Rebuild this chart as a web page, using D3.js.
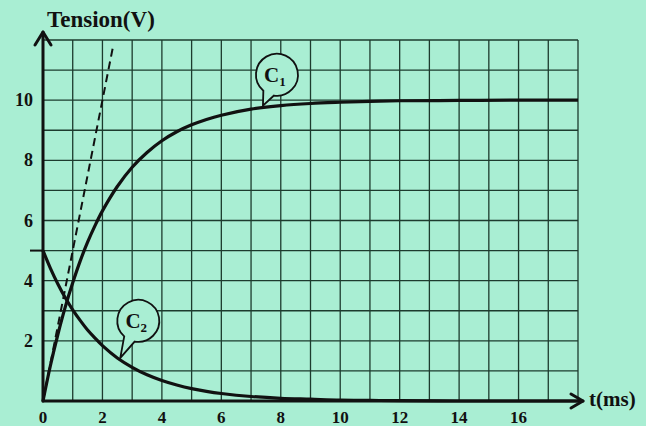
<!DOCTYPE html>
<html>
<head>
<meta charset="utf-8">
<script src="https://cdn.jsdelivr.net/npm/d3@7"></script>
<style>
  html, body { margin: 0; padding: 0; background: #a9eed3; }
  svg { display: block; }
  text { font-family: "Liberation Serif", "Times New Roman", serif; font-weight: bold; fill: #111; }
</style>
</head>
<body>
<svg id="chart" width="646" height="426"></svg>
<script>
// Sampled times (ms) and voltages (V) of the two curves
const times = [0, 0.25, 0.5, 0.75, 1, 1.25, 1.5, 1.75, 2, 2.5, 3, 3.5, 4, 4.5, 5, 5.5, 6, 7, 8, 9, 10, 11, 12, 14, 16, 18];
const c1Values = [0, 1.18, 2.21, 3.13, 3.93, 4.65, 5.28, 5.83, 6.32, 7.13, 7.77, 8.26, 8.65, 8.95, 9.18, 9.36, 9.5, 9.7, 9.82, 9.89, 9.93, 9.96, 9.98, 9.99, 10, 10];
const c2Values = [5, 4.41, 3.89, 3.43, 3.03, 2.68, 2.36, 2.09, 1.84, 1.43, 1.12, 0.87, 0.68, 0.53, 0.41, 0.32, 0.25, 0.15, 0.09, 0.06, 0.03, 0.02, 0.01, 0, 0, 0];

// Tangent to C1 at the origin (dashed)
const tangentT = [0, 2.35];
const tangentV = [0, 11.75];

// Axis ticks
const xTickLabels = [0, 2, 4, 6, 8, 10, 12, 14, 16];
const yTickLabels = [2, 4, 6, 8, 10];

// Curve labels: name, subscript, time where the bubble points
const curveLabels = ["C", "C"];
const curveSubs = ["1", "2"];
const labelTimes = [7.4, 2.6];

const ink = "#111";
const gridInk = "#1d3b2e";
const bg = "#a9eed3";

const svg = d3.select("#chart");
const x = d3.scaleLinear().domain([0, 18]).range([43, 578]);
const y = d3.scaleLinear().domain([0, 12]).range([401, 40]);

// Grid
const grid = svg.append("g").attr("stroke", gridInk).attr("stroke-width", 1.3);
grid.selectAll("line.v").data(d3.range(1, 19)).join("line")
  .attr("x1", d => x(d)).attr("x2", d => x(d))
  .attr("y1", y(0)).attr("y2", y(12));
grid.selectAll("line.h").data(d3.range(1, 13)).join("line")
  .attr("x1", x(0)).attr("x2", x(18))
  .attr("y1", d => y(d)).attr("y2", d => y(d));

// Curves
const line = d3.line().x(d => x(d[0])).y(d => y(d[1])).curve(d3.curveCatmullRom.alpha(0.5));
const c1 = times.map((t, i) => [t, c1Values[i]]);
const c2 = times.map((t, i) => [t, c2Values[i]]);

svg.append("path").datum(c2).attr("d", line)
  .attr("fill", "none").attr("stroke", ink).attr("stroke-width", 3.2);
svg.append("path").datum(c1).attr("d", line)
  .attr("fill", "none").attr("stroke", ink).attr("stroke-width", 3.2);

// Dashed tangent
svg.append("path").datum(tangentT.map((t, i) => [t, tangentV[i]]))
  .attr("d", d3.line().x(d => x(d[0])).y(d => y(d[1])))
  .attr("fill", "none").attr("stroke", ink).attr("stroke-width", 2)
  .attr("stroke-dasharray", "8,5");

// Axes
const axes = svg.append("g").attr("stroke", ink).attr("stroke-width", 3)
  .attr("fill", "none").attr("stroke-linecap", "round").attr("stroke-linejoin", "round");
axes.append("line").attr("x1", x(0)).attr("y1", y(0)).attr("x2", x(0)).attr("y2", 32);
axes.append("path").attr("d", `M${x(0) - 8},45 L${x(0)},32 L${x(0) + 8},45`);
axes.append("line").attr("x1", x(0)).attr("y1", y(0)).attr("x2", 583).attr("y2", y(0));
axes.append("path").attr("d", `M571,${y(0) - 7} L583,${y(0)} L571,${y(0) + 7}`);

// Marker of the initial value of C2
svg.append("line").attr("x1", 30).attr("x2", x(0))
  .attr("y1", y(c2Values[0])).attr("y2", y(c2Values[0]))
  .attr("stroke", ink).attr("stroke-width", 2);

// Tick labels
svg.selectAll("text.xt").data(xTickLabels).join("text")
  .attr("x", d => x(d)).attr("y", 423)
  .attr("text-anchor", "middle").attr("font-size", 17)
  .text(d => d);
svg.selectAll("text.yt").data(yTickLabels).join("text")
  .attr("x", 33).attr("y", d => y(d) + 6)
  .attr("text-anchor", "end").attr("font-size", 18)
  .text(d => d);

// Axis titles
svg.append("text").attr("x", 47).attr("y", 27).attr("font-size", 23).text("Tension(V)");
svg.append("text").attr("x", 589).attr("y", 406).attr("font-size", 21).text("t(ms)");

// Speech-bubble labels pointing at each curve
const bubbleOffsets = [[14, -31], [18, -37]];
const r = 21;
[c1, c2].forEach((series, k) => {
  const t = labelTimes[k];
  const i = d3.bisector(d => d[0]).left(series, t);
  const a = series[i - 1], b = series[i];
  const val = a[1] + (b[1] - a[1]) * (t - a[0]) / (b[0] - a[0]);
  const tipX = x(t), tipY = y(val) - 2;
  const cx = tipX + bubbleOffsets[k][0], cy = tipY + bubbleOffsets[k][1];
  const ang = Math.atan2(tipY - cy, tipX - cx);
  const d = 0.28;
  const p1 = [cx + r * Math.cos(ang - d), cy + r * Math.sin(ang - d)];
  const p2 = [cx + r * Math.cos(ang + d), cy + r * Math.sin(ang + d)];
  svg.append("path")
    .attr("d", `M${p2[0]},${p2[1]} L${tipX},${tipY} L${p1[0]},${p1[1]} A${r},${r} 0 1 0 ${p2[0]},${p2[1]} Z`)
    .attr("fill", bg).attr("stroke", ink).attr("stroke-width", 1.8);
  const label = svg.append("text").attr("x", cx - 2).attr("y", cy + 7)
    .attr("text-anchor", "middle").attr("font-size", 21);
  label.append("tspan").text(curveLabels[k]);
  label.append("tspan").attr("font-size", 13).attr("dy", 4).text(curveSubs[k]);
});
</script>
</body>
</html>
